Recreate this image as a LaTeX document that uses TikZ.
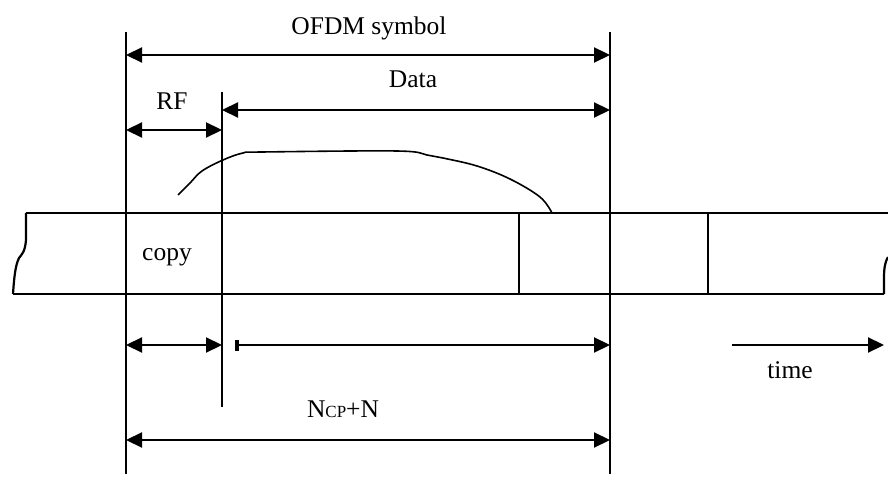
\documentclass[tikz,border=0pt]{standalone}
\usepackage{fontspec}
\setmainfont{Liberation Serif}
\usetikzlibrary{arrows.meta}
\begin{document}
\begin{tikzpicture}[x=1pt,y=-1pt,
  line width=2.2pt,
  tip/.tip={Triangle[length=16pt,width=15pt]},
  tri/.style={-tip},
  dbl/.style={tip-tip},
  lbl/.style={font=\fontsize{25.5}{30}\selectfont, anchor=base, inner sep=0pt}]
\useasboundingbox (0,0) rectangle (888,478);
% vertical lines
\coordinate (L1t) at (126,32);  \coordinate (L1b) at (126,474);
\coordinate (L3t) at (610,32);  \coordinate (L3b) at (610,474);
\coordinate (L2t) at (222,92);  \coordinate (L2b) at (222,407);
\draw (L1t) -- (L1b);
\draw (L3t) -- (L3b);
\draw (L2t) -- (L2b);
% band
\coordinate (BtL) at (26,213); \coordinate (BtR) at (888,213);
\coordinate (BbL) at (13,294); \coordinate (BbR) at (884,294);
\draw (BtL) -- (BtR);
\draw (BbL) -- (BbR);
\draw (BtL) -- (26,240) .. controls (25,252) and (22,254) .. (19,258)
  .. controls (15,266) and (14,280) .. (BbL);
\draw (BbR) -- (884,278) .. controls (884,268) and (885,262) .. (888,257);
\coordinate (S1t) at (519,213); \coordinate (S1b) at (519,294);
\coordinate (S2t) at (708,213); \coordinate (S2b) at (708,294);
\draw (S1t) -- (S1b);
\draw (S2t) -- (S2b);
% curve
\draw[line width=1.6pt] plot[smooth, tension=0.6] coordinates {(178,195) (190,183) (202,171) (223,160) (243,153) (262,152) (397,151) (427,155) (443,158) (477,166) (510,179) (540,197) (552,213)};
% dimension arrows
\coordinate (A1l) at (126,55);  \coordinate (A1r) at (610,55);
\coordinate (A2l) at (222,110); \coordinate (A2r) at (610,110);
\coordinate (A3l) at (126,130); \coordinate (A3r) at (222,130);
\coordinate (A4l) at (126,345); \coordinate (A4r) at (222,345);
\coordinate (A5l) at (235,345); \coordinate (A5r) at (610,345);
\coordinate (A6l) at (126,440); \coordinate (A6r) at (610,440);
\coordinate (T1) at (732,345);  \coordinate (T2) at (884,345);
\draw[dbl] (A1l) -- (A1r);
\draw[dbl] (A2l) -- (A2r);
\draw[dbl] (A3l) -- (A3r);
\draw[dbl] (A4l) -- (A4r);
\draw[{Bar[width=11pt,line width=4pt]}-tip] (A5l) -- (A5r);
\draw[dbl] (A6l) -- (A6r);
\draw[tri] (T1) -- (T2);
% labels
\node[lbl] (ofdm) at (369,35) {OFDM symbol};
\node[lbl] (data) at (413,88) {Data};
\node[lbl] (rf) at (172,110) {RF};
\node[lbl] (copy) at (167,261) {copy};
\node[lbl] (time) at (790,378) {time};
\node[lbl] (ncp) at (343,417) {N{\fontsize{17}{20}\selectfont CP}+N};
\end{tikzpicture}
\end{document}
